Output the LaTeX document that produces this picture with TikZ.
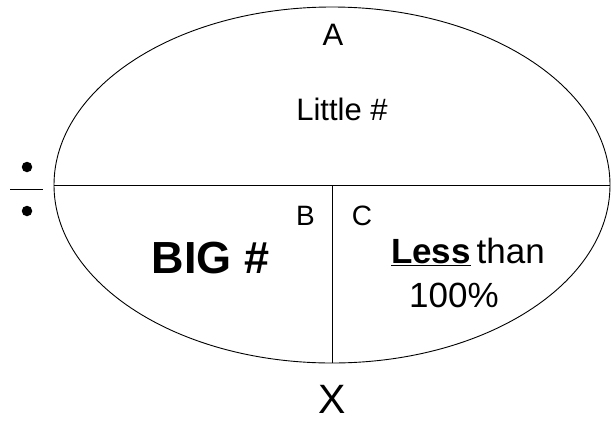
\documentclass[tikz,border=0pt]{standalone}
\usepackage{fontspec}
\setmainfont{Liberation Sans}
\usetikzlibrary{positioning,shapes.geometric}

\begin{document}
\begin{tikzpicture}[
      x=1pt, y=-1pt,
      line width=0.9pt,
      lbl/.style={anchor=base, inner sep=0pt, font=\fontsize{31}{36}\selectfont},
      small/.style={anchor=base, inner sep=0pt, font=\fontsize{28}{32}\selectfont},
      big/.style={anchor=base, inner sep=0pt, font=\fontsize{45}{52}\selectfont\bfseries},
      mid/.style={anchor=base, inner sep=0pt, font=\fontsize{35}{40}\selectfont},
      dot/.style={circle, fill=black, inner sep=0pt, minimum size=10.5pt}
    ]
    \useasboundingbox (0,0) rectangle (611,424);
    \node[ellipse, draw, minimum width=556pt, minimum height=356pt, inner sep=0pt] (oval) at (332,185) {};
    \draw (oval.west) -- (oval.east);
    \draw (oval.center) -- (oval.south);

    \node[lbl] (a) at (333,45) {A};
    \node[lbl] (little) at (342,120) {Little \#};
    \node[small] (b) at (305.5,225) {B};
    \node[small] (c) at (362,225) {C};
    \node[big] (bignum) at (210.5,273) {BIG \#};
    \node[mid] (less) at (468,263) {\underline{\textbf{Less}}\,than};
    \node[mid] (pct) at (454,307) {100\%};
    \node[anchor=base, inner sep=0pt, font=\fontsize{41}{46}\selectfont] (x) at (332,413) {X};

    % division sign
    \node[dot] (dtop) at (27,167) {};
    \node[dot] (dbot) at (27,211) {};
    \coordinate (barl) at (10,189);
    \coordinate (barr) at (43,189);
    \draw (barl) -- (barr);
  \end{tikzpicture}
\end{document}
